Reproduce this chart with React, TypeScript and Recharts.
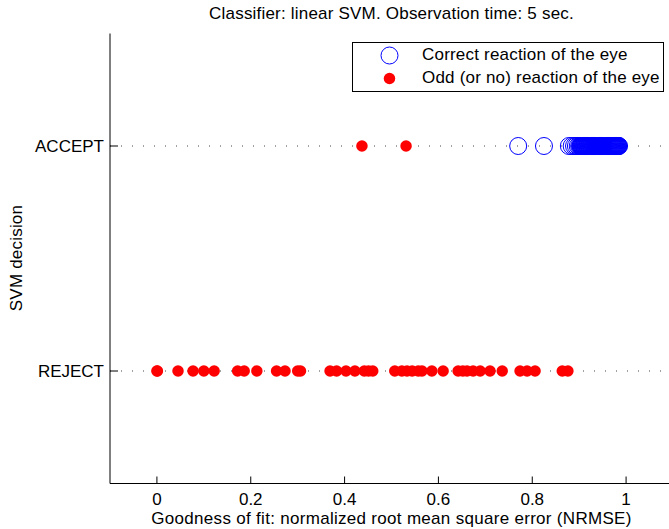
import React from 'react';
import {
  ScatterChart,
  Scatter,
  XAxis,
  YAxis,
  ReferenceLine,
} from 'recharts';

// NRMSE values, by decision row
const acceptCorrect = [
  0.77, 0.825, 0.878, 0.884, 0.889, 0.893, 0.897, 0.9, 0.902, 0.903, 0.904,
  0.905, 0.906, 0.907, 0.908, 0.909, 0.91, 0.911, 0.912, 0.913, 0.914, 0.915,
  0.916, 0.917, 0.918, 0.919, 0.92, 0.921, 0.922, 0.923, 0.924, 0.925, 0.926,
  0.927, 0.928, 0.929, 0.93, 0.931, 0.932, 0.933, 0.934, 0.935, 0.936, 0.937,
  0.938, 0.939, 0.94, 0.941, 0.942, 0.943, 0.944, 0.945, 0.946, 0.947, 0.948,
  0.949, 0.95, 0.951, 0.952, 0.953, 0.954, 0.955, 0.956, 0.957, 0.958, 0.959,
  0.96, 0.961, 0.962, 0.963, 0.964, 0.965, 0.966, 0.967, 0.968, 0.969, 0.97,
  0.971, 0.972, 0.973, 0.974, 0.975, 0.976, 0.977, 0.978, 0.979, 0.98, 0.981,
  0.982, 0.983, 0.984, 0.985,
];
const acceptOdd = [0.437, 0.531];
const rejectOdd = [
  0.0, 0.001, 0.045, 0.077, 0.1, 0.122, 0.172, 0.186, 0.213, 0.255, 0.273,
  0.3, 0.306, 0.369, 0.383, 0.403, 0.422, 0.442, 0.451, 0.46, 0.507, 0.522,
  0.533, 0.544, 0.557, 0.565, 0.586, 0.61, 0.642, 0.652, 0.661, 0.674, 0.689,
  0.71, 0.736, 0.774, 0.789, 0.806, 0.864, 0.876,
];
const xTicks = [0, 0.2, 0.4, 0.6, 0.8, 1];
const decisionLabels = ['REJECT', 'ACCEPT'];

const correctData = acceptCorrect.map((x) => ({ x, y: 1 }));
const oddData = [
  ...acceptOdd.map((x) => ({ x, y: 1 })),
  ...rejectOdd.map((x) => ({ x, y: 0 })),
];

const FONT = '"Liberation Sans", Arial, Helvetica, sans-serif';
const FS = 17;

const XTick = (props: any) => {
  const { x, y, payload } = props;
  return (
    <g>
      <line x1={x} y1={y} x2={x} y2={y - 7} stroke="#000" />
      <text x={x} y={y + 21} textAnchor="middle" fontSize={FS} fontFamily={FONT} fill="#000">
        {String(payload.value)}
      </text>
    </g>
  );
};

const YTick = (props: any) => {
  const { x, y, payload } = props;
  return (
    <g>
      <line x1={x} y1={y} x2={x + 8} y2={y} stroke="#000" />
      <text x={x - 6} y={y + 6} textAnchor="end" fontSize={FS} fontFamily={FONT} fill="#000">
        {decisionLabels[payload.value]}
      </text>
    </g>
  );
};

const OpenCircle = (p: any) => (
  <circle cx={p.cx} cy={p.cy} r={8.5} fill="none" stroke="#0000ff" strokeWidth={1} />
);
const RedDot = (p: any) => <circle cx={p.cx} cy={p.cy} r={5.75} fill="#ff0000" />;

export default function App() {
  return (
    <div
      style={{
        position: 'absolute',
        left: 0,
        top: 0,
        width: 669,
        height: 529,
        overflow: 'hidden',
        background: '#fff',
        fontFamily: FONT,
        color: '#000',
      }}
    >
      <div
        style={{
          position: 'absolute',
          left: 0,
          width: 783,
          top: 5,
          height: 18,
          lineHeight: '18px',
          textAlign: 'center',
          fontSize: FS,
          letterSpacing: 0.2,
        }}
      >
        Classifier: linear SVM. Observation time: 5 sec.
      </div>

      <ScatterChart
        width={680}
        height={529}
        margin={{ top: 33.5, right: 7, bottom: 0, left: 0 }}
      >
        <XAxis
          type="number"
          dataKey="x"
          domain={[-0.1, 1.1]}
          ticks={xTicks}
          allowDataOverflow
          height={45.5}
          tickSize={0}
          tickMargin={0}
          tickLine={false}
          axisLine={{ stroke: '#000' }}
          tick={<XTick />}
          interval={0}
        />
        <YAxis
          type="number"
          dataKey="y"
          domain={[-0.5, 1.5]}
          ticks={[0, 1]}
          allowDataOverflow
          width={110}
          tickSize={0}
          tickMargin={0}
          tickLine={false}
          axisLine={{ stroke: '#000' }}
          tick={<YTick />}
          interval={0}
        />
        <Scatter
          name="Correct reaction of the eye"
          data={correctData}
          shape={OpenCircle}
          isAnimationActive={false}
        />
        <Scatter
          name="Odd (or no) reaction of the eye"
          data={oddData}
          shape={RedDot}
          isAnimationActive={false}
        />
        <ReferenceLine y={1} stroke="#444" strokeDasharray="1 10" />
        <ReferenceLine y={0} stroke="#444" strokeDasharray="1 10" />
      </ScatterChart>

      <div
        style={{
          position: 'absolute',
          left: 17,
          top: 258,
          transform: 'translate(-50%, -50%) rotate(-90deg)',
          whiteSpace: 'nowrap',
          fontSize: FS,
          lineHeight: '18px',
          letterSpacing: 0.2,
        }}
      >
        SVM decision
      </div>

      <div
        style={{
          position: 'absolute',
          left: 0,
          width: 783,
          top: 510,
          height: 18,
          lineHeight: '18px',
          textAlign: 'center',
          fontSize: FS,
          letterSpacing: 0.3,
        }}
      >
        Goodness of fit: normalized root mean square error (NRMSE)
      </div>

      <div
        style={{
          position: 'absolute',
          left: 352,
          top: 42,
          width: 310,
          height: 48,
          border: '1px solid #000',
          background: '#fff',
          fontSize: FS,
        }}
      >
        <svg width={60} height={48} style={{ position: 'absolute', left: 0, top: 0 }}>
          <circle cx={36.5} cy={12.5} r={8.5} fill="none" stroke="#0000ff" />
          <circle cx={36.5} cy={35.5} r={5.75} fill="#ff0000" />
        </svg>
        <div style={{ position: 'absolute', left: 69, top: 2, lineHeight: '20px', whiteSpace: 'nowrap', letterSpacing: 0.2 }}>
          Correct reaction of the eye
        </div>
        <div style={{ position: 'absolute', left: 69, top: 25, lineHeight: '20px', whiteSpace: 'nowrap', letterSpacing: 0.2 }}>
          Odd (or no) reaction of the eye
        </div>
      </div>
    </div>
  );
}
